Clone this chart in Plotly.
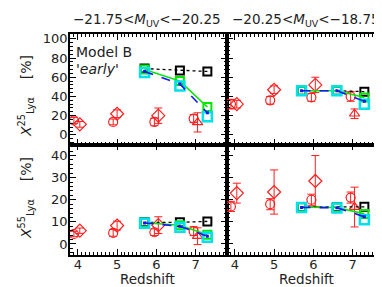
import plotly.graph_objects as go
from plotly.subplots import make_subplots

# ---------------- data ----------------
z_model = [5.7, 6.6, 7.3]

tl_black = [69, 67, 66]
tl_green = [68, 56, 29]
tl_blue = [66, 53, 23]
tl_cyan = [65, 51, 19]

tr_black = [46, 46, 45]
tr_green = [46, 46, 39]
tr_blue = [46, 46, 35]
tr_cyan = [46, 46, 32]

bl_black = [9.8, 9.8, 10.2]
bl_green = [9.6, 8.5, 4.2]
bl_blue = [9.5, 8.0, 3.5]
bl_cyan = [9.4, 7.6, 3.0]

br_black = [16.7, 16.7, 16.8]
br_green = [16.6, 16.5, 13.6]
br_blue = [16.5, 16.4, 12.3]
br_cyan = [16.5, 16.3, 11.0]

z_circ = [3.9, 4.9, 5.95, 6.95]
z_diam = [4.05, 5.0, 6.05]
z_tri = [7.05]

tl_circ = [15, 13.5, 13.5, 17]
tl_circ_err = [3, 3, 4, 4]
tl_diam = [11, 22, 20]
tl_diam_err = [3, 4, 8]
tl_tri = [13]
tl_tri_err = [10]

tr_circ = [32, 36, 39, 40]
tr_circ_err = [5, 4, 4, 5]
tr_diam = [32, 47, 52]
tr_diam_err = [4, 4, 8]
tr_tri = [22]
tr_tri_err = [5]

bl_circ = [4.5, 5.0, 5.3, 5.8]
bl_circ_err = [1.2, 1.5, 1.5, 2]
bl_diam = [6, 8.3, 8.5]
bl_diam_err = [1.2, 2, 3.8]
bl_tri = [3.5]
bl_tri_err = [3.8]

br_circ = [17, 18, 20, 21]
br_circ_err = [2.3, 2.5, 2.5, 2.5]
br_diam = [23, 23.5, 28.5]
br_diam_err = [4.5, 10, 11.5]
br_tri = [16.7]
br_tri_err = [9]

panel_titles = ["\u221221.75<<i>M</i><sub>UV</sub><\u221220.25",
                "\u221220.25<<i>M</i><sub>UV</sub><\u221218.75"]
x_ticks = [4, 5, 6, 7]

# ---------------- figure ----------------
fig = make_subplots(rows=2, cols=2, horizontal_spacing=0, vertical_spacing=0)

RED = "rgb(255,30,30)"
GREEN = "rgb(0,230,0)"
CYAN = "rgb(0,225,235)"
BLUE = "rgb(20,20,255)"

panels = [
    (1, 1, tl_black, tl_green, tl_blue, tl_cyan, tl_circ, tl_circ_err, tl_diam, tl_diam_err, tl_tri, tl_tri_err),
    (1, 2, tr_black, tr_green, tr_blue, tr_cyan, tr_circ, tr_circ_err, tr_diam, tr_diam_err, tr_tri, tr_tri_err),
    (2, 1, bl_black, bl_green, bl_blue, bl_cyan, bl_circ, bl_circ_err, bl_diam, bl_diam_err, bl_tri, bl_tri_err),
    (2, 2, br_black, br_green, br_blue, br_cyan, br_circ, br_circ_err, br_diam, br_diam_err, br_tri, br_tri_err),
]

for (r, c, blk, grn, blu, cyn, circ, circ_e, diam, diam_e, tri, tri_e) in panels:
    def err(e):
        return dict(type="data", array=e, visible=True, color=RED, thickness=1, width=4)
    fig.add_trace(go.Scatter(x=z_circ, y=circ, mode="markers", error_y=err(circ_e),
                             marker=dict(symbol="circle-open", size=9, color=RED, line=dict(width=1.2))),
                  row=r, col=c)
    fig.add_trace(go.Scatter(x=z_diam, y=diam, mode="markers", error_y=err(diam_e),
                             marker=dict(symbol="diamond-open", size=10, color=RED, line=dict(width=1.2))),
                  row=r, col=c)
    fig.add_trace(go.Scatter(x=z_tri, y=tri, mode="markers", error_y=err(tri_e),
                             marker=dict(symbol="triangle-up-open", size=9, color=RED, line=dict(width=1.2))),
                  row=r, col=c)
    fig.add_trace(go.Scatter(x=z_model, y=blk, mode="lines+markers",
                             line=dict(color="black", width=1.3, dash="dot"),
                             marker=dict(symbol="square-open", size=8, color="black", line=dict(width=2))),
                  row=r, col=c)
    fig.add_trace(go.Scatter(x=z_model, y=grn, mode="lines+markers",
                             line=dict(color=GREEN, width=1.6),
                             marker=dict(symbol="square-open", size=8, color=GREEN, line=dict(width=2))),
                  row=r, col=c)
    fig.add_trace(go.Scatter(x=z_model, y=cyn, mode="markers",
                             marker=dict(symbol="square-open", size=9, color=CYAN, line=dict(width=2.5))),
                  row=r, col=c)
    fig.add_trace(go.Scatter(x=z_model, y=blu, mode="lines+markers",
                             line=dict(color=BLUE, width=1.6, dash="dash"),
                             marker=dict(symbol="square", size=3, color=BLUE)),
                  row=r, col=c)

FONT = "DejaVu Sans"
TXT = "#222"
TICKFONT = dict(family=FONT, size=13, color=TXT)

for r in (1, 2):
    for c in (1, 2):
        fig.update_xaxes(range=[3.8, 7.8], tickvals=x_ticks, ticks="inside", ticklen=6,
                         tickcolor="black", showline=True, linecolor="black", linewidth=1.5,
                         mirror="allticks", showgrid=False, zeroline=False, automargin=False,
                         minor=dict(dtick=0.1, ticks="inside", ticklen=3, tickcolor="black", showgrid=False),
                         showticklabels=(r == 2), tickfont=TICKFONT, ticklabelstandoff=-3,
                         row=r, col=c)
        if r == 1:
            fig.update_yaxes(range=[-10, 105], tickvals=[0, 20, 40, 60, 80, 100],
                             minor=dict(dtick=4, ticks="inside", ticklen=3, tickcolor="black", showgrid=False),
                             row=r, col=c)
        else:
            fig.update_yaxes(range=[-5, 45], tickvals=[0, 10, 20, 30, 40],
                             minor=dict(dtick=2, ticks="inside", ticklen=3, tickcolor="black", showgrid=False),
                             row=r, col=c)
        fig.update_yaxes(ticks="inside", ticklen=6, tickcolor="black", showline=True,
                         linecolor="black", linewidth=1.5, mirror="allticks", showgrid=False,
                         zeroline=False, automargin=False, showticklabels=(c == 1),
                         tickfont=TICKFONT, ticklabelstandoff=-2, row=r, col=c)

W, H = 382, 287
ML, MR, MT, MB = 62, 6, 26, 40
fig.update_layout(width=W, height=H, margin=dict(l=ML, r=MR, t=MT, b=MB),
                  paper_bgcolor="white", plot_bgcolor="white", showlegend=False,
                  font=dict(family=FONT, size=13, color=TXT))

PH = H - MT - MB
PW = W - ML - MR

def py(ypix):
    return (H - MB - ypix) / PH

def px(xpix):
    return (xpix - ML) / PW

def ann(x, y, text, size=12, xanchor="center", angle=0):
    return dict(x=x, y=y, xref="paper", yref="paper", text=text, showarrow=False,
                xanchor=xanchor, yanchor="middle", textangle=angle,
                font=dict(family=FONT, size=size, color=TXT))

anns = [
    ann(px(139), py(12), panel_titles[0], 13.5),
    ann(px(298), py(12), panel_titles[1], 13.5),
    ann(px(139), py(271), "Redshift", 13.5),
    ann(px(298), py(271), "Redshift", 13.5),
    ann(px(66), py(44), "Model B", 14, xanchor="left"),
    ann(px(66), py(61), "<i>'early'</i>", 14, xanchor="left"),
    ann(px(18), py(88), "<i>X</i><sup>25</sup><sub>Ly\u03b1</sub>    [%]", 14, angle=-90),
    ann(px(18), py(190), "<i>X</i><sup>55</sup><sub>Ly\u03b1</sub>    [%]", 14, angle=-90),
]
fig.update_layout(annotations=anns)

fig.write_html("out.html")
